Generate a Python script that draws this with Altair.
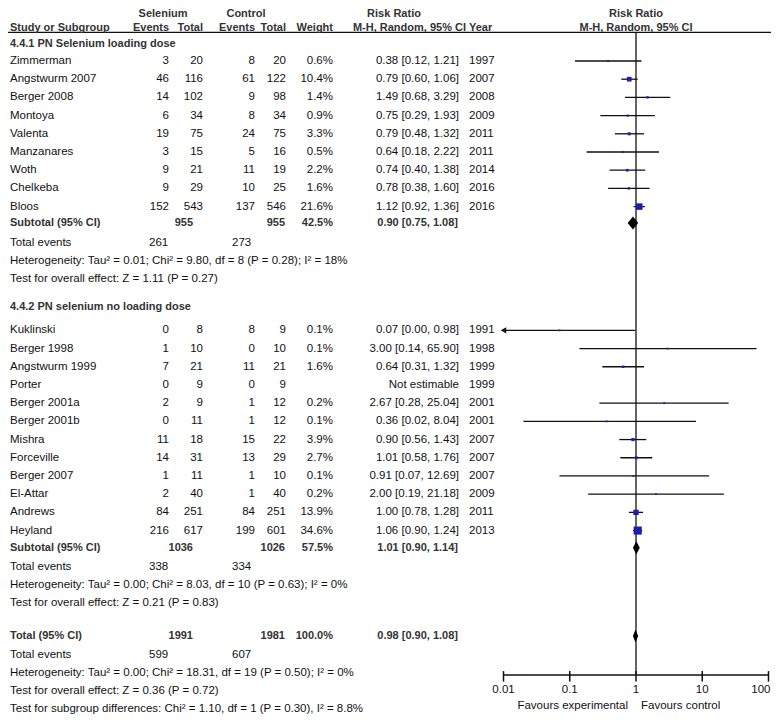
import altair as alt
import pandas as pd

# ---------------- data ----------------
group_titles = ["4.4.1 PN Selenium loading dose", "4.4.2 PN selenium no loading dose"]

names1 = ["Zimmerman", "Angstwurm 2007", "Berger 2008", "Montoya", "Valenta",
          "Manzanares", "Woth", "Chelkeba", "Bloos"]
sel_ev1 = [3, 46, 14, 6, 19, 3, 9, 9, 152]
sel_tot1 = [20, 116, 102, 34, 75, 15, 21, 29, 543]
ctl_ev1 = [8, 61, 9, 8, 24, 5, 11, 10, 137]
ctl_tot1 = [20, 122, 98, 34, 75, 16, 19, 25, 546]
weight1 = [0.6, 10.4, 1.4, 0.9, 3.3, 0.5, 2.2, 1.6, 21.6]
rr1 = [0.38, 0.79, 1.49, 0.75, 0.79, 0.64, 0.74, 0.78, 1.12]
lo1 = [0.12, 0.60, 0.68, 0.29, 0.48, 0.18, 0.40, 0.38, 0.92]
hi1 = [1.21, 1.06, 3.29, 1.93, 1.32, 2.22, 1.38, 1.60, 1.36]
year1 = [1997, 2007, 2008, 2009, 2011, 2011, 2014, 2016, 2016]

names2 = ["Kuklinski", "Berger 1998", "Angstwurm 1999", "Porter", "Berger 2001a",
          "Berger 2001b", "Mishra", "Forceville", "Berger 2007", "El-Attar",
          "Andrews", "Heyland"]
sel_ev2 = [0, 1, 7, 0, 2, 0, 11, 14, 1, 2, 84, 216]
sel_tot2 = [8, 10, 21, 9, 9, 11, 18, 31, 11, 40, 251, 617]
ctl_ev2 = [8, 0, 11, 0, 1, 1, 15, 13, 1, 1, 84, 199]
ctl_tot2 = [9, 10, 21, 9, 12, 12, 22, 29, 10, 40, 251, 601]
weight2 = [0.1, 0.1, 1.6, None, 0.2, 0.1, 3.9, 2.7, 0.1, 0.2, 13.9, 34.6]
rr2 = [0.07, 3.00, 0.64, None, 2.67, 0.36, 0.90, 1.01, 0.91, 2.00, 1.00, 1.06]
lo2 = [0.00, 0.14, 0.31, None, 0.28, 0.02, 0.56, 0.58, 0.07, 0.19, 0.78, 0.90]
hi2 = [0.98, 65.90, 1.32, None, 25.04, 8.04, 1.43, 1.76, 12.69, 21.18, 1.28, 1.24]
year2 = [1991, 1998, 1999, 1999, 2001, 2001, 2007, 2007, 2007, 2009, 2011, 2013]

sub_labels = ["Subtotal (95% CI)", "Subtotal (95% CI)", "Total (95% CI)"]
sub_sel_tot = [955, 1036, 1991]
sub_ctl_tot = [955, 1026, 1981]
sub_weight = ["42.5%", "57.5%", "100.0%"]
sub_rr = [0.90, 1.01, 0.98]
sub_lo = [0.75, 0.90, 0.90]
sub_hi = [1.08, 1.14, 1.08]
tot_ev_sel = [261, 338, 599]
tot_ev_ctl = [273, 334, 607]
het_text = [
    "Heterogeneity: Tau\u00b2 = 0.01; Chi\u00b2 = 9.80, df = 8 (P = 0.28); I\u00b2 = 18%",
    "Heterogeneity: Tau\u00b2 = 0.00; Chi\u00b2 = 8.03, df = 10 (P = 0.63); I\u00b2 = 0%",
    "Heterogeneity: Tau\u00b2 = 0.00; Chi\u00b2 = 18.31, df = 19 (P = 0.50); I\u00b2 = 0%",
]
test_text = [
    "Test for overall effect: Z = 1.11 (P = 0.27)",
    "Test for overall effect: Z = 0.21 (P = 0.83)",
    "Test for overall effect: Z = 0.36 (P = 0.72)",
]
subgroup_text = "Test for subgroup differences: Chi\u00b2 = 1.10, df = 1 (P = 0.30), I\u00b2 = 8.8%"

tick_values = [0.01, 0.1, 1, 10, 100]
tick_labels = ["0.01", "0.1", "1", "10", "100"]
favours_left = "Favours experimental"
favours_right = "Favours control"

# ---------------- layout (row units) ----------------
W, H = 763, 707
STEP = 18.2
TOP_PX = 53.0
R_H1, R_H2, R_LINE, R_G1 = -2.58, -1.84, -1.57, -0.96
rows1 = [float(i) for i in range(len(names1))]
R_SUB1, R_TEV1, R_HET1, R_TEST1 = 8.9, 10.0, 11.0, 12.0
R_G2 = 13.5
rows2 = [14.8 + i for i in range(len(names2))]
R_SUB2, R_TEV2, R_HET2, R_TEST2 = 26.75, 27.8, 28.8, 29.8
R_TOT, R_TEV3, R_HET3, R_TEST3, R_SGD = 31.59, 32.64, 33.63, 34.62, 35.6
R_AXIS, R_TICKLAB, R_FAV = 33.74, 34.56, 35.44

FONT = "Liberation Sans"
FS = 11.5
FSB = 11
BLUE = "#1c1cb0"

yscale = alt.Scale(domain=[-TOP_PX / STEP, (H - TOP_PX) / STEP], range=[0, H])
xscale = alt.Scale(type="log", domain=[0.01, 100], range=[495.5, 760.5])

# ---------------- text cells ----------------
cells = []


def add(r, col, text, bold=False):
    cells.append(dict(row=r, col=col, text=str(text), bold=bold))


def fmt_rr(r, l, h):
    return f"{r:.2f} [{l:.2f}, {h:.2f}]"


add(R_H1, "hSel", "Selenium", True)
add(R_H1, "hCtl", "Control", True)
add(R_H1, "hRR", "Risk Ratio", True)
add(R_H1, "hRR2", "Risk Ratio", True)
add(R_H2, "name", "Study or Subgroup", True)
add(R_H2, "sev", "Events", True)
add(R_H2, "stot", "Total", True)
add(R_H2, "cev", "Events", True)
add(R_H2, "ctot", "Total", True)
add(R_H2, "wt", "Weight", True)
add(R_H2, "hMH", "M-H, Random, 95% CI", True)
add(R_H2, "year", "Year", True)
add(R_H2, "hRR2", "M-H, Random, 95% CI", True)

groups = [
    (R_G1, rows1, names1, sel_ev1, sel_tot1, ctl_ev1, ctl_tot1, weight1, rr1, lo1, hi1, year1),
    (R_G2, rows2, names2, sel_ev2, sel_tot2, ctl_ev2, ctl_tot2, weight2, rr2, lo2, hi2, year2),
]
study_records = []
for gi, (rg, rws, nm, se, st, ce, ct, wt, rr, lo, hi, yr) in enumerate(groups):
    add(rg, "name", group_titles[gi], True)
    for i in range(len(nm)):
        r = rws[i]
        add(r, "name", nm[i])
        add(r, "sev", se[i])
        add(r, "stot", st[i])
        add(r, "cev", ce[i])
        add(r, "ctot", ct[i])
        if wt[i] is not None:
            add(r, "wt", f"{wt[i]}%")
            add(r, "rr", fmt_rr(rr[i], lo[i], hi[i]))
            study_records.append(dict(row=r, rr=rr[i], lo=max(lo[i], 0.01), hi=min(hi[i], 100),
                                      clipped=lo[i] < 0.01, weight=wt[i]))
        else:
            add(r, "rr", "Not estimable")
        add(r, "year", yr[i])

sum_rows = [(R_SUB1, R_TEV1, R_HET1, R_TEST1), (R_SUB2, R_TEV2, R_HET2, R_TEST2),
            (R_TOT, R_TEV3, R_HET3, R_TEST3)]
diamonds = []
for k, (rs, rt, rh, rtest) in enumerate(sum_rows):
    add(rs, "name", sub_labels[k], True)
    add(rs, "subStot", sub_sel_tot[k], True)
    add(rs, "subCtot", sub_ctl_tot[k], True)
    add(rs, "wt", sub_weight[k], True)
    add(rs, "rrb", fmt_rr(sub_rr[k], sub_lo[k], sub_hi[k]), True)
    add(rt, "name", "Total events")
    add(rt, "tevS", tot_ev_sel[k])
    add(rt, "tevC", tot_ev_ctl[k])
    add(rh, "name", het_text[k])
    add(rtest, "name", test_text[k])
    hh = 0.36
    diamonds += [
        dict(id=k, x=sub_lo[k], y1=rs, y2=rs),
        dict(id=k, x=sub_rr[k], y1=rs - hh, y2=rs + hh),
        dict(id=k, x=sub_hi[k], y1=rs, y2=rs),
    ]
add(R_SGD, "name", subgroup_text)

cells_df = pd.DataFrame(cells)

col_pos = {
    "name": (2, "left"), "sev": (161, "right"), "stot": (195, "right"),
    "cev": (247, "right"), "ctot": (278, "right"), "wt": (325, "right"),
    "rr": (451, "right"), "rrb": (450, "right"), "year": (461, "left"),
    "subStot": (185, "right"), "subCtot": (277, "right"),
    "tevS": (141, "left"), "tevC": (224, "left"),
    "hSel": (155, "center"), "hCtl": (238, "center"), "hRR": (386, "center"),
    "hRR2": (628, "center"), "hMH": (458, "right"),
}

layers = []
for col, (xp, al) in col_pos.items():
    for bold in (False, True):
        sub = cells_df[(cells_df.col == col) & (cells_df.bold == bold)]
        if len(sub) == 0:
            continue
        layers.append(
            alt.Chart(sub).mark_text(
                align=al, baseline="middle", font=FONT, fontSize=FSB if bold else FS,
                fontWeight="bold" if bold else "normal",
                color="#333333" if bold else "#111111",
            ).encode(
                x=alt.value(xp),
                y=alt.Y("row:Q", scale=yscale, axis=None),
                text="text:N",
            )
        )

# ---------------- lines ----------------
hline = alt.Chart(pd.DataFrame({"row": [R_LINE]})).mark_rule(color="#111111", strokeWidth=1.2).encode(
    y=alt.Y("row:Q", scale=yscale, axis=None), x=alt.value(0), x2=alt.value(W))

vline = alt.Chart(pd.DataFrame({"v": [1], "r1": [R_LINE], "r2": [R_AXIS]})).mark_rule(
    color="#111111", strokeWidth=1.3).encode(
    x=alt.X("v:Q", scale=xscale, axis=None),
    y=alt.Y("r1:Q", scale=yscale, axis=None), y2="r2:Q")

studies_df = pd.DataFrame(study_records)
ci = alt.Chart(studies_df).mark_rule(color="#111111", strokeWidth=1.3).encode(
    x=alt.X("lo:Q", scale=xscale, axis=None), x2="hi:Q",
    y=alt.Y("row:Q", scale=yscale, axis=None))

boxes = alt.Chart(studies_df).mark_square(color=BLUE, opacity=1).encode(
    x=alt.X("rr:Q", scale=xscale, axis=None),
    y=alt.Y("row:Q", scale=yscale, axis=None),
    size=alt.Size("weight:Q", scale=alt.Scale(domain=[0, 34.6], range=[3, 66]), legend=None))

arrows = alt.Chart(studies_df[studies_df.clipped]).mark_point(
    shape="triangle-left", filled=True, color="#111111", opacity=1, size=40).encode(
    x=alt.X("lo:Q", scale=xscale, axis=None),
    y=alt.Y("row:Q", scale=yscale, axis=None))

diam = alt.Chart(pd.DataFrame(diamonds)).mark_area(color="#000000", orient="vertical", opacity=1).encode(
    x=alt.X("x:Q", scale=xscale, axis=None),
    y=alt.Y("y1:Q", scale=yscale, axis=None), y2="y2:Q",
    detail="id:N")

# ---------------- axis ----------------
axis_line = alt.Chart(pd.DataFrame({"a": [tick_values[0]], "b": [tick_values[-1]], "row": [R_AXIS]})).mark_rule(
    color="#111111", strokeWidth=1.5).encode(
    x=alt.X("a:Q", scale=xscale, axis=None), x2="b:Q",
    y=alt.Y("row:Q", scale=yscale, axis=None))

ticks_df = pd.DataFrame({"v": tick_values, "lab": tick_labels,
                         "r1": [R_AXIS - 0.22] * len(tick_values),
                         "r2": [R_AXIS + 0.36] * len(tick_values),
                         "rl": [R_TICKLAB] * len(tick_values)})
ticks = alt.Chart(ticks_df).mark_rule(color="#111111", strokeWidth=1.5).encode(
    x=alt.X("v:Q", scale=xscale, axis=None),
    y=alt.Y("r1:Q", scale=yscale, axis=None), y2="r2:Q")
tick_text = alt.Chart(ticks_df.iloc[:-1]).mark_text(font=FONT, fontSize=FS, baseline="middle", align="center",
                                                    color="#111111").encode(
    x=alt.X("v:Q", scale=xscale, axis=None),
    y=alt.Y("rl:Q", scale=yscale, axis=None), text="lab:N")
# last label nudged so it stays inside the drawing area
tick_text_last = alt.Chart(ticks_df.iloc[-1:]).mark_text(font=FONT, fontSize=FS, baseline="middle", align="right",
                                                         dx=2, color="#111111").encode(
    x=alt.X("v:Q", scale=xscale, axis=None),
    y=alt.Y("rl:Q", scale=yscale, axis=None), text="lab:N")

fav_df = pd.DataFrame({"v": [1, 1], "row": [R_FAV, R_FAV], "t": [favours_left, favours_right],
                       "side": ["l", "r"]})
fav_l = alt.Chart(fav_df[fav_df.side == "l"]).mark_text(
    font=FONT, fontSize=FS, baseline="middle", align="right", dx=-8, color="#111111").encode(
    x=alt.X("v:Q", scale=xscale, axis=None), y=alt.Y("row:Q", scale=yscale, axis=None), text="t:N")
fav_r = alt.Chart(fav_df[fav_df.side == "r"]).mark_text(
    font=FONT, fontSize=FS, baseline="middle", align="left", dx=5, color="#111111").encode(
    x=alt.X("v:Q", scale=xscale, axis=None), y=alt.Y("row:Q", scale=yscale, axis=None), text="t:N")

chart = alt.layer(
    hline, vline, ci, boxes, arrows, diam, axis_line, ticks, tick_text, tick_text_last,
    fav_l, fav_r, *layers
).properties(
    width=W, height=H, padding=0, autosize=alt.AutoSizeParams(type="none"), background="white"
).configure_view(stroke=None)

chart.save("out.html", embed_options={"renderer": "svg", "actions": False})
